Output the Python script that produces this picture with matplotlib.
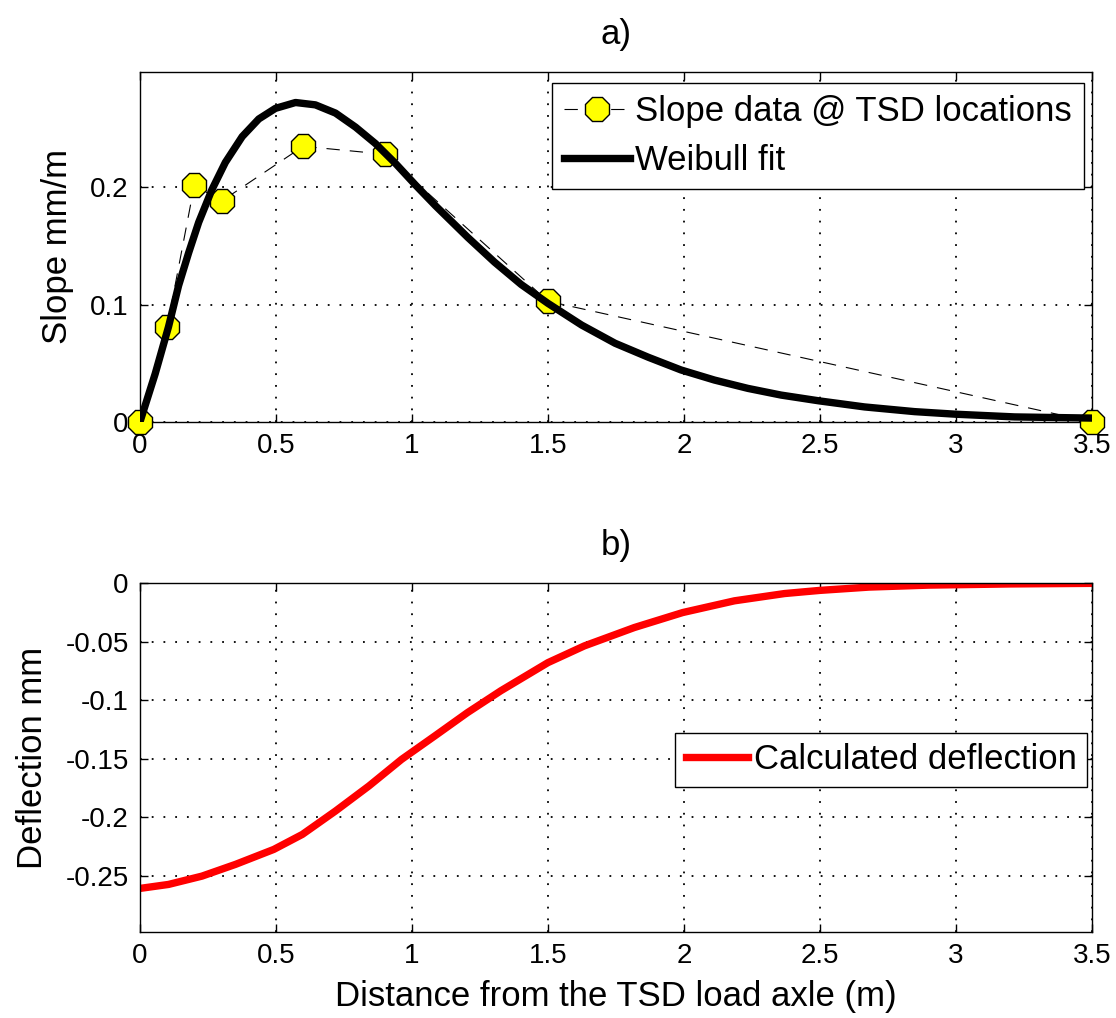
import matplotlib
matplotlib.use('Agg')
import matplotlib.pyplot as plt

plt.rcParams['font.family'] = ['Liberation Sans', 'DejaVu Sans']

# Slope data measured at TSD sensor positions
tsd_x = [0, 0.1, 0.2, 0.3, 0.6, 0.9, 1.5, 3.5]
tsd_slope = [0, 0.081, 0.2017, 0.188, 0.2347, 0.228, 0.1028, 0]

# Weibull fit
fit_x = [0, 0.056, 0.105, 0.142, 0.179, 0.216, 0.265, 0.314, 0.376, 0.437,
         0.498, 0.572, 0.645, 0.719, 0.793, 0.866, 0.94, 1.014, 1.087, 1.206,
         1.304, 1.402, 1.5, 1.624, 1.747, 1.87, 1.989, 2.112, 2.235, 2.357,
         2.496, 2.664, 2.848, 2.999, 3.216, 3.5]
fit_slope = [0, 0.041, 0.081, 0.116, 0.144, 0.170, 0.198, 0.221, 0.243, 0.258,
             0.267, 0.272, 0.270, 0.263, 0.251, 0.237, 0.220, 0.2015, 0.184, 0.157,
             0.136, 0.117, 0.101, 0.0825, 0.067, 0.055, 0.0443, 0.0357, 0.0286, 0.0229,
             0.018, 0.0128, 0.0088, 0.0066, 0.0043, 0.0033]

# Calculated deflection
defl_x = [0, 0.105, 0.228, 0.351, 0.492, 0.597, 0.719, 0.842, 0.962, 1.084,
          1.204, 1.327, 1.5, 1.634, 1.818, 1.996, 2.186, 2.37, 2.5, 2.68, 2.9,
          3.2, 3.5]
defl_y = [-0.2608, -0.2574, -0.2503, -0.2403, -0.2275, -0.2147, -0.1947, -0.1733,
          -0.1506, -0.1306, -0.1107, -0.092, -0.068, -0.0537, -0.038, -0.0252,
          -0.0152, -0.009, -0.0063, -0.0035, -0.0018, -0.0008, -0.0003]

x_ticks = [0, 0.5, 1, 1.5, 2, 2.5, 3, 3.5]
x_ticklabels = ['0', '0.5', '1', '1.5', '2', '2.5', '3', '3.5']

TICK_FS = 20
LABEL_FS = 25

fig = plt.figure(figsize=(11.16, 10.18), dpi=100)
ax1 = fig.add_axes([0.1254, 0.5855, 0.853, 0.3438])
ax2 = fig.add_axes([0.1254, 0.0845, 0.853, 0.3428])


def style_axes(ax):
    ax.grid(True, color='black', linestyle=(0, (1, 5.5)), linewidth=1.3)
    ax.tick_params(direction='in', top=True, right=True, length=6, width=1,
                   labelsize=TICK_FS, pad=8)
    for s in ax.spines.values():
        s.set_linewidth(1.0)
    ax.set_xlim(0, 3.5)
    ax.set_xticks(x_ticks)
    ax.set_xticklabels(x_ticklabels)


# a) slope
ax1.plot(tsd_x, tsd_slope, color='black', linestyle=(0, (12, 9)), linewidth=0.8,
         marker='8', markersize=18, markerfacecolor='yellow',
         markeredgecolor='black', markeredgewidth=1.0, clip_on=False, zorder=3,
         label='Slope data @ TSD locations')
ax1.plot(fit_x, fit_slope, color='black', linewidth=5.3, zorder=4,
         solid_joinstyle='round', label='Weibull fit')
style_axes(ax1)
ax1.set_ylim(0, 0.298)
ax1.set_yticks([0, 0.1, 0.2])
ax1.set_yticklabels(['0', '0.1', '0.2'])
ax1.set_ylabel('Slope mm/m', fontsize=LABEL_FS, labelpad=12)
ax1.set_title('a)', fontsize=LABEL_FS, pad=20)
leg1 = ax1.legend(loc='upper right', bbox_to_anchor=(1 - 7.5 / 952, 1 - 11 / 350),
                  borderaxespad=0, fontsize=LABEL_FS, fancybox=False, framealpha=1,
                  edgecolor='black', handlelength=1.9, handletextpad=0.15,
                  labelspacing=0.45, borderpad=0.35)
leg1.get_frame().set_linewidth(1.0)

# b) deflection
ax2.plot(defl_x, defl_y, color='red', linewidth=5.3, solid_joinstyle='round',
         label='Calculated deflection')
style_axes(ax2)
ax2.set_ylim(-0.298, 0)
ax2.set_yticks([-0.25, -0.2, -0.15, -0.1, -0.05, 0])
ax2.set_yticklabels(['-0.25', '-0.2', '-0.15', '-0.1', '-0.05', '0'])
ax2.set_ylabel('Deflection mm', fontsize=LABEL_FS, labelpad=12)
ax2.set_xlabel('Distance from the TSD load axle (m)', fontsize=LABEL_FS, labelpad=8)
ax2.set_title('b)', fontsize=LABEL_FS, pad=20)
leg2 = ax2.legend(loc='center right', bbox_to_anchor=(1 - 5 / 952, 0.493),
                  borderaxespad=0, fontsize=LABEL_FS, fancybox=False, framealpha=1,
                  edgecolor='black', handlelength=1.8, handletextpad=0.15,
                  borderpad=0.3)
leg2.get_frame().set_linewidth(1.0)

fig.savefig('out.png', dpi=100)
